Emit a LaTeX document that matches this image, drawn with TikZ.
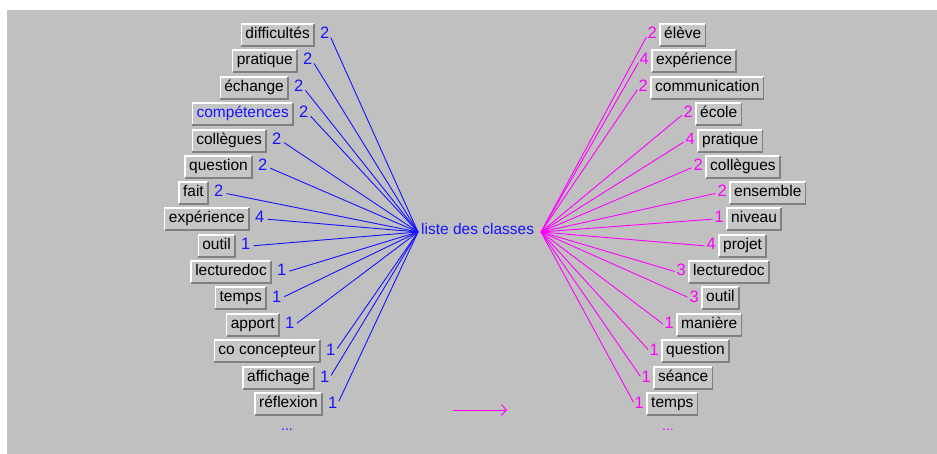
\documentclass[tikz,border=0pt]{standalone}
\usepackage{fontspec}
\setmainfont{Liberation Sans}
\usetikzlibrary{arrows.meta}
\definecolor{bg}{RGB}{192,192,192}
\definecolor{boxfill}{RGB}{198,198,198}
\definecolor{edgedark}{RGB}{128,128,128}
\definecolor{myblue}{RGB}{20,20,255}
\definecolor{mymag}{RGB}{255,0,255}
\newcommand\bevel[1]{%
  \draw[white,line width=1.2pt] (#1.south west) -- (#1.north west) -- (#1.north east);
  \draw[edgedark,line width=1.5pt] (#1.south west) -- (#1.south east) -- (#1.north east);}
\begin{document}
\begin{tikzpicture}[x=1pt,y=-1pt,
  lbl/.style={fill=boxfill, inner xsep=4pt, inner ysep=3.5pt, text height=11pt, text depth=3.5pt,
    font=\fontsize{15.5}{17}\selectfont, text=black},
  num/.style={inner sep=0pt, text height=11.5pt, text depth=3.5pt, font=\fontsize{16.5}{18}\selectfont},
  bline/.style={myblue, line width=0.9pt},
  mline/.style={mymag, line width=0.9pt}]
\useasboundingbox (0,0) rectangle (937,454);
\fill[bg] (7,10) rectangle (937,454);
\coordinate (hubL) at (418,232);
\coordinate (hubR) at (541,232);
\node[num, font=\fontsize{15.5}{17}\selectfont, text=myblue, anchor=west] (center) at (421,231) {liste des classes};
% left side
\foreach \r/\y/\t/\n/\c [count=\i] in {
  314/35/difficultés/2/black, 297/61/pratique/2/black, 288/88/échange/2/black,
  293/114/compétences/2/myblue, 266/141/collègues/2/black, 252/167/question/2/black,
  208/193/fait/2/black, 249/219/expérience/4/black, 235/246/outil/1/black,
  271/272/lecturedoc/1/black, 266/298/temps/1/black, 279/325/apport/1/black,
  320/351/co concepteur/1/black, 314/378/affichage/1/black, 322/404/réflexion/1/black}{
  \node[lbl, text=\c, anchor=east] (L\i) at (\r,\y) {\t};
  \bevel{L\i}
  \node[num, text=myblue, anchor=west] (LN\i) at ([xshift=6pt]L\i.east) {\n};
  \draw[bline, shorten <=3pt] (LN\i.east) -- (hubL);
}
% right side
\foreach \l/\y/\t/\n [count=\i] in {
  660/35/élève/2, 652/61/expérience/4, 651/88/communication/2,
  696/114/école/2, 698/141/pratique/4, 706/167/collègues/2,
  730/193/ensemble/2, 727/219/niveau/1, 719/246/projet/4,
  689/272/lecturedoc/3, 702/298/outil/3, 677/325/manière/1,
  662/351/question/1, 654/378/séance/1, 647/404/temps/1}{
  \node[lbl, anchor=west] (R\i) at (\l,\y) {\t};
  \bevel{R\i}
  \node[num, text=mymag, anchor=east] (RN\i) at ([xshift=-3pt]R\i.west) {\n};
  \draw[mline, shorten <=2pt] (RN\i.west) -- (hubR);
}
\node[text=myblue, font=\fontsize{14}{16}\selectfont] (dotsL) at (287,430) {...};
\node[text=mymag, font=\fontsize{14}{16}\selectfont] (dotsR) at (668,430) {...};
\coordinate (a1) at (453,410);
\coordinate (a2) at (507,410);
\draw[mline, -{Straight Barb[length=5pt,width=11pt]}] (a1) -- (a2);
\end{tikzpicture}
\end{document}
